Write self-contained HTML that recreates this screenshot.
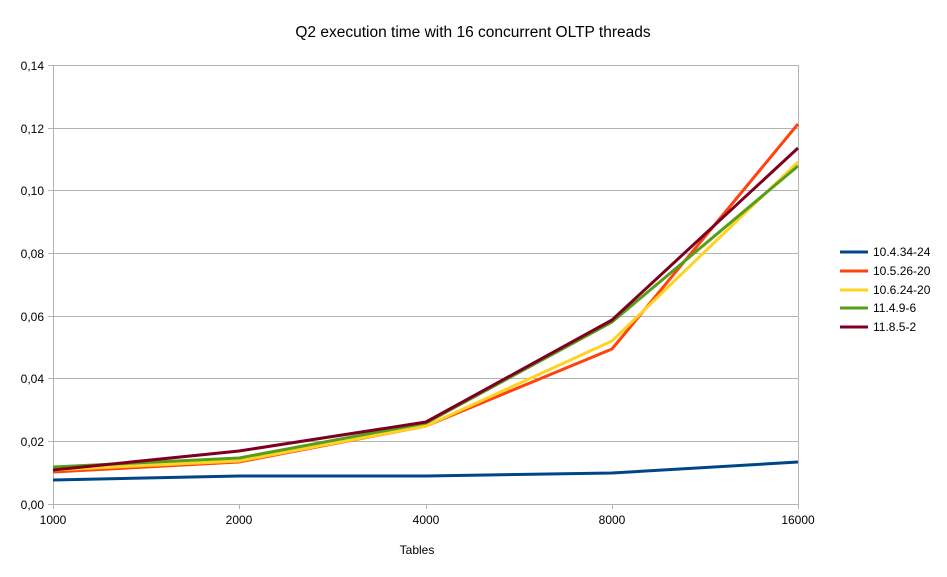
<!DOCTYPE html>
<html><head><meta charset="utf-8"><style>body{margin:0;background:#fff}svg{display:block;font-family:"Liberation Sans",sans-serif}</style></head><body>
<svg width="947" height="577" viewBox="0 0 947 577">
<rect width="947" height="577" fill="#fff"/>
<text x="473" y="37" font-size="15.5" text-anchor="middle" fill="#000">Q2 execution time with 16 concurrent OLTP threads</text>
<g stroke="#b3b3b3" stroke-width="1">
<line x1="53" y1="65.5" x2="798" y2="65.5"/>
<line x1="53" y1="128.5" x2="798" y2="128.5"/>
<line x1="53" y1="190.5" x2="798" y2="190.5"/>
<line x1="53" y1="253.5" x2="798" y2="253.5"/>
<line x1="53" y1="316.5" x2="798" y2="316.5"/>
<line x1="53" y1="378.5" x2="798" y2="378.5"/>
<line x1="53" y1="441.5" x2="798" y2="441.5"/>
<line x1="53" y1="504.5" x2="798" y2="504.5"/>
<line x1="53.5" y1="65" x2="53.5" y2="509"/>
<line x1="798.5" y1="65" x2="798.5" y2="509"/>
<line x1="239.5" y1="504" x2="239.5" y2="509"/>
<line x1="426.5" y1="504" x2="426.5" y2="509"/>
<line x1="612.5" y1="504" x2="612.5" y2="509"/>
<line x1="48" y1="65.5" x2="53" y2="65.5"/><line x1="48" y1="128.5" x2="53" y2="128.5"/><line x1="48" y1="190.5" x2="53" y2="190.5"/><line x1="48" y1="253.5" x2="53" y2="253.5"/><line x1="48" y1="316.5" x2="53" y2="316.5"/><line x1="48" y1="378.5" x2="53" y2="378.5"/><line x1="48" y1="441.5" x2="53" y2="441.5"/><line x1="48" y1="504.5" x2="53" y2="504.5"/>
</g>
<g font-size="12" fill="#000" text-anchor="end">
<text x="44" y="70">0,14</text><text x="44" y="133">0,12</text><text x="44" y="195">0,10</text><text x="44" y="258">0,08</text><text x="44" y="321">0,06</text><text x="44" y="383">0,04</text><text x="44" y="446">0,02</text><text x="44" y="509">0,00</text>
</g>
<g font-size="12" fill="#000" text-anchor="middle">
<text x="53" y="524">1000</text><text x="239" y="524">2000</text><text x="426" y="524">4000</text><text x="612" y="524">8000</text><text x="798" y="524">16000</text>
<text x="417" y="554">Tables</text>
</g>
<g fill="none" stroke-width="3" stroke-linejoin="round">
<polyline stroke="#004586" points="53,480 239,476 426,476 612,473 798,462"/>
<polyline stroke="#ff420e" points="53,472 239,462 426,426 612,349 798,124"/>
<polyline stroke="#ffd320" points="53,470 239,461 426,426 612,341 798,162"/>
<polyline stroke="#579d1c" points="53,467 239,458 426,423 612,322 798,166"/>
<polyline stroke="#7e0021" points="53,470 239,451 426,422 612,320 798,148"/>
</g>
<g stroke-width="3">
<line x1="840" y1="252" x2="868" y2="252" stroke="#004586"/>
<line x1="840" y1="271" x2="868" y2="271" stroke="#ff420e"/>
<line x1="840" y1="290" x2="868" y2="290" stroke="#ffd320"/>
<line x1="840" y1="308" x2="868" y2="308" stroke="#579d1c"/>
<line x1="840" y1="327" x2="868" y2="327" stroke="#7e0021"/>
</g>
<g font-size="12" fill="#000">
<text x="873" y="256">10.4.34-24</text>
<text x="873" y="275">10.5.26-20</text>
<text x="873" y="294">10.6.24-20</text>
<text x="873" y="312">11.4.9-6</text>
<text x="873" y="331">11.8.5-2</text>
</g>
</svg>
</body></html>
